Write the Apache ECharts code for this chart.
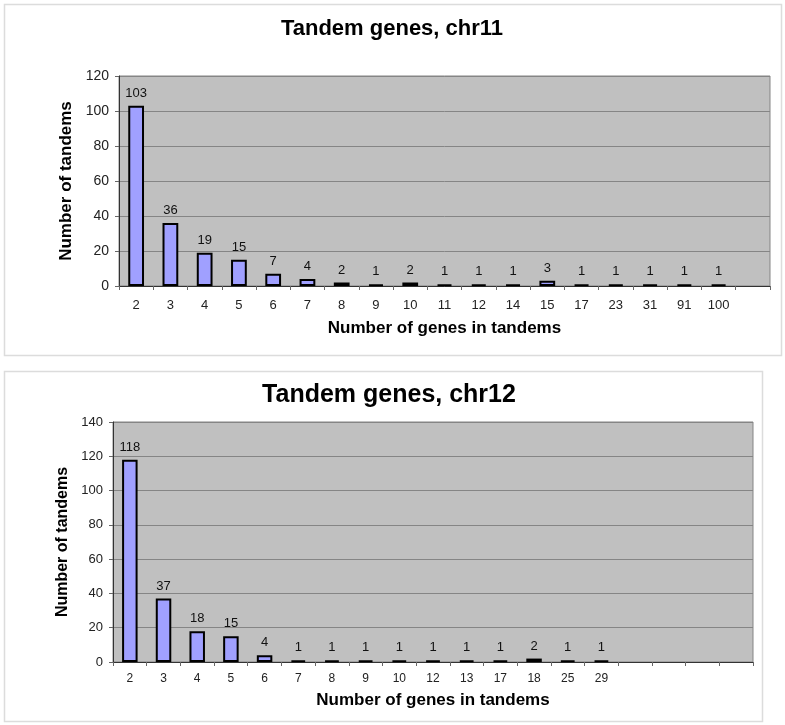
<!DOCTYPE html>
<html>
<head>
<meta charset="utf-8">
<title>Tandem genes</title>
<script src="https://cdn.jsdelivr.net/npm/echarts@6/dist/echarts.min.js"></script>
<style>
  html, body { margin: 0; padding: 0; background: #fff; }
  #chart { width: 785px; height: 725px; }
</style>
</head>
<body>
<div id="chart"></div>
<script>
var myChart = echarts.init(document.getElementById("chart"));

// chr11: tandem size -> count (last slot is empty in the original)
var chr11Sizes = ["2", "3", "4", "5", "6", "7", "8", "9", "10", "11", "12", "14", "15", "17", "23", "31", "91", "100", ""];
var chr11Counts = [103, 36, 19, 15, 7, 4, 2, 1, 2, 1, 1, 1, 3, 1, 1, 1, 1, 1];

// chr12 (four empty slots at the end)
var chr12Sizes = ["2", "3", "4", "5", "6", "7", "8", "9", "10", "12", "13", "17", "18", "25", "29", "", "", "", ""];
var chr12Counts = [118, 37, 18, 15, 4, 1, 1, 1, 1, 1, 1, 1, 2, 1, 1];

var chr11Ticks = { min: 0, max: 120, interval: 20 };
var chr12Ticks = { min: 0, max: 140, interval: 20 };

var font = "'Liberation Sans', Arial, sans-serif";

function xAxisFor(idx, cats, labelSize, labelMargin, nameGap) {
	return {
		type: "category",
		gridIndex: idx,
		data: cats,
		name: "Number of genes in tandems",
		nameLocation: "middle",
		nameGap: nameGap,
		nameTextStyle: { fontFamily: font, fontSize: 17, fontWeight: "bold", color: "#000" },
		axisLine: { lineStyle: { color: "#333", width: 1 } },
		axisTick: { show: true, length: 4, lineStyle: { color: "#666" } },
		axisLabel: { interval: 0, margin: labelMargin, fontFamily: font, fontSize: labelSize, color: "#222" },
		splitLine: { show: false }
	};
}

function yAxisFor(idx, ticks, labelSize, nameSize, nameGap) {
	return {
		type: "value",
		gridIndex: idx,
		min: ticks.min,
		max: ticks.max,
		interval: ticks.interval,
		name: "Number of tandems",
		nameLocation: "middle",
		nameGap: nameGap,
		nameTextStyle: { fontFamily: font, fontSize: nameSize, fontWeight: "bold", color: "#000" },
		axisLine: { show: true, lineStyle: { color: "#333", width: 1 } },
		axisTick: { show: true, length: 4, lineStyle: { color: "#666" } },
		axisLabel: { margin: 10, fontFamily: font, fontSize: labelSize, color: "#222" },
		splitLine: { show: true, lineStyle: { color: "#858585", width: 1 } }
	};
}

function barSeries(idx, values) {
	return {
		type: "bar",
		xAxisIndex: idx,
		yAxisIndex: idx,
		barWidth: "46%",
		itemStyle: { color: "#A0A0FF", borderColor: "#000", borderWidth: 2 },
		label: {
			show: true,
			position: "top",
			distance: 6,
			fontFamily: font,
			fontSize: 13,
			color: "#111"
		},
		data: values
	};
}

var option = {
	backgroundColor: "#fff",
	animation: false,
	graphic: [
		{
			type: "rect",
			shape: { x: 4.5, y: 4.5, width: 777, height: 351 },
			style: { fill: "none", stroke: "#dcdcdc", lineWidth: 1.5 }
		},
		{
			type: "rect",
			shape: { x: 4.5, y: 371.5, width: 758, height: 350 },
			style: { fill: "none", stroke: "#dcdcdc", lineWidth: 1.5 }
		},
		{
			type: "text",
			x: 392,
			y: 29,
			style: {
				text: "Tandem genes, chr11",
				fontFamily: font,
				fontSize: 22,
				fontWeight: "bold",
				fill: "#000",
				textAlign: "center",
				textVerticalAlign: "middle"
			}
		},
		{
			type: "text",
			x: 389,
			y: 395,
			style: {
				text: "Tandem genes, chr12",
				fontFamily: font,
				fontSize: 25,
				fontWeight: "bold",
				fill: "#000",
				textAlign: "center",
				textVerticalAlign: "middle"
			}
		}
	],
	grid: [
		{
			left: 119, top: 76, width: 651, height: 210,
			show: true, backgroundColor: "#C0C0C0", borderColor: "#858585", borderWidth: 1
		},
		{
			left: 113, top: 422, width: 640, height: 240,
			show: true, backgroundColor: "#C0C0C0", borderColor: "#858585", borderWidth: 1
		}
	],
	xAxis: [
		xAxisFor(0, chr11Sizes, 13, 13, 34),
		xAxisFor(1, chr12Sizes, 12, 11, 30)
	],
	yAxis: [
		yAxisFor(0, chr11Ticks, 14, 17, 42),
		yAxisFor(1, chr12Ticks, 13, 16, 41)
	],
	series: [
		barSeries(0, chr11Counts),
		barSeries(1, chr12Counts)
	]
};

myChart.setOption(option);
</script>
</body>
</html>
